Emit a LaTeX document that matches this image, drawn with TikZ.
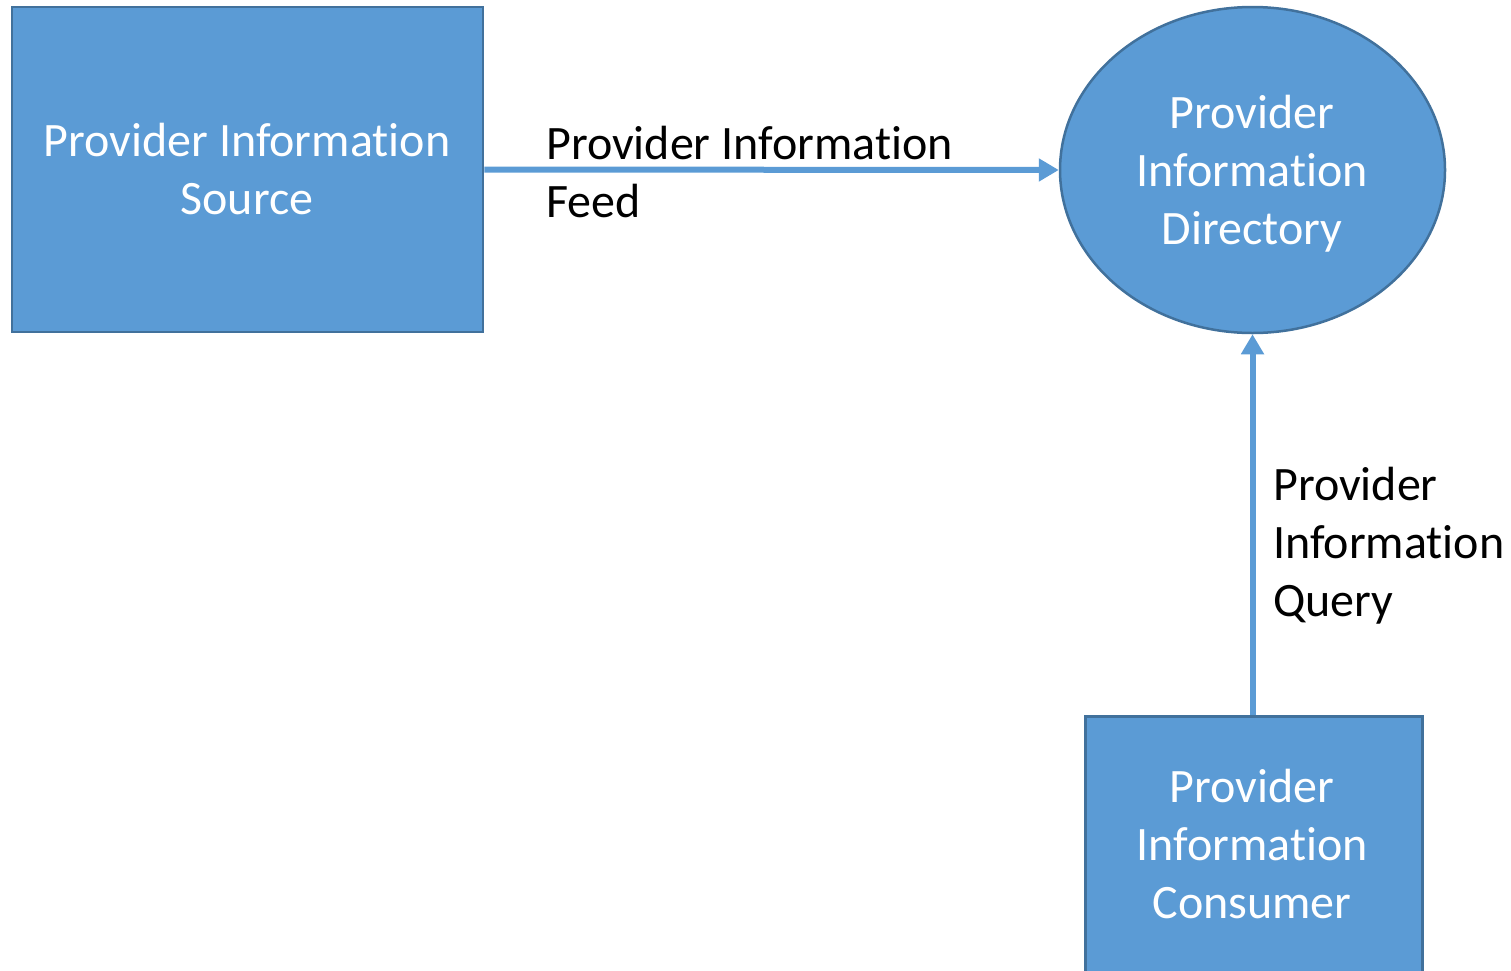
\documentclass[tikz,border=0pt]{standalone}
\usepackage{fontspec}
\setmainfont{Carlito}[Ligatures=NoCommon]
\usetikzlibrary{arrows.meta,shapes.geometric}
\definecolor{boxfill}{HTML}{5B9BD5}
\definecolor{boxline}{HTML}{41719C}
\tikzset{
  procbox/.style={draw=boxline, fill=boxfill, line width=2.5pt, inner sep=0pt},
  boxtext/.style={text=white, font=\fontsize{48}{58}\selectfont, align=center, anchor=base},
  flow/.style={draw=boxfill, line width=6pt, -{Triangle[length=20pt,width=22pt]}},
  flowlabel/.style={font=\fontsize{48}{58}\selectfont, align=left, text=black, anchor=base west, inner sep=0pt}
}
\begin{document}
\begin{tikzpicture}[x=1pt,y=-1pt]
\useasboundingbox (0,0) rectangle (1511,970);
\begin{scope}
\clip (0,0) rectangle (1511,970);
\node[procbox, minimum width=471pt, minimum height=325pt] (src) at (247.5,169.5) {};
\node[procbox, ellipse, minimum width=385pt, minimum height=326pt] (dir) at (1252.5,170) {};
\node[procbox, minimum width=337pt, minimum height=320pt, anchor=north west] (con) at (1084,715) {};
\end{scope}
\node[boxtext] (srct) at (247,214) {Provider Information\\Source};
\node[boxtext] (dirt) at (1252,244) {Provider\\Information\\Directory};
\node[boxtext] (cont) at (1252,918) {Provider\\Information\\Consumer};
\coordinate (conTop) at (1252.5,715);
\draw[flow] (src.east) -- (dir.west);
\draw[flow] (conTop) -- (dir.south);
\node[flowlabel] (feed) at (546,217) {Provider Information\\Feed};
\node[flowlabel] (query) at (1273,616) {Provider\\Information\\Query};
\end{tikzpicture}
\end{document}
